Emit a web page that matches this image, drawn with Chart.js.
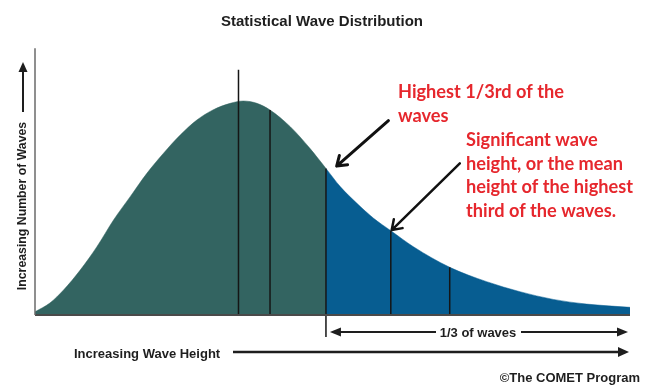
<!DOCTYPE html>
<html>
<head>
<meta charset="utf-8">
<script src="https://cdn.jsdelivr.net/npm/chart.js@4.4.1/dist/chart.umd.min.js"></script>
<style>
  html, body { margin: 0; padding: 0; background: #fff; }
  canvas { display: block; }
</style>
</head>
<body>
<canvas id="waveChart" width="648" height="388"></canvas>
<script>
// curve: x = wave height (0-100), y = number of waves (peak = 100)
const lowerX = [0, 2.5, 4.8, 7.6, 10.4, 13.2, 16.0, 18.8, 21.6, 24.4, 27.2, 29.9, 32.8, 35.0, 37.3, 39.5, 42.9, 46.2, 48.9]
const lowerY = [1.5, 5.6, 11.7, 21.0, 31.9, 44.4, 55.3, 66.2, 75.6, 84.1, 91.1, 95.8, 98.9, 100, 98.9, 95.8, 88.0, 77.9, 68.5]
const upperX = [48.9, 51.3, 54.1, 56.9, 59.8, 63.6, 69.7, 75.9, 81.5, 87.1, 92.7, 100]
const upperY = [68.5, 60.0, 52.2, 45.2, 39.4, 31.9, 22.3, 15.6, 10.9, 7.3, 5.1, 3.6]

// vertical marker lines
const markerX = [34.2, 39.5, 48.9, 59.8, 69.7]
const markerTop = [114.6, 95.8, 68.5, 39.4, 22.3]
const markerBottom = [0, 0, -10.3, 0, 0]

const axisTop = 124.6
const axisEnd = 100

const title = 'Statistical Wave Distribution'
const yLabel = 'Increasing Number of Waves'
const xLabel = 'Increasing Wave Height'
const thirdLabel = '1/3 of waves'
const credit = '\u00A9The COMET Program'
const noteThird = ['Highest 1/3rd of the', 'waves']
const noteSig = ['Significant wave', 'height, or the mean', 'height of the highest', 'third of the waves.']

const toPoints = (xs, ys) => xs.map((v, i) => ({ x: v, y: ys[i] }))

const datasets = [
  {
    data: toPoints(lowerX, lowerY),
    backgroundColor: '#336461',
    borderColor: '#336461',
    borderWidth: 0.5,
    fill: 'origin',
    cubicInterpolationMode: 'monotone',
    order: 10
  },
  {
    data: toPoints(upperX, upperY),
    backgroundColor: '#075d91',
    borderColor: '#075d91',
    borderWidth: 0.5,
    fill: 'origin',
    cubicInterpolationMode: 'monotone',
    order: 10
  }
]

markerX.forEach((mx, i) => {
  datasets.push({
    data: [{ x: mx, y: markerBottom[i] }, { x: mx, y: markerTop[i] }],
    borderColor: '#151515',
    borderWidth: 1.5,
    fill: false,
    clip: false,
    order: 1
  })
})

// axis lines
datasets.push({
  data: [{ x: 0, y: 0 }, { x: 0, y: axisTop }],
  borderColor: '#6a6a6a',
  borderWidth: 1.5,
  fill: false,
  clip: false,
  order: 0
})
datasets.push({
  data: [{ x: 0, y: 0 }, { x: axisEnd, y: 0 }],
  borderColor: '#4a4a4a',
  borderWidth: 2,
  fill: false,
  clip: false,
  order: 0
})

const filledArrow = (ctx, x1, y1, x2, y2, lw, len, half) => {
  const a = Math.atan2(y2 - y1, x2 - x1)
  ctx.lineWidth = lw
  ctx.beginPath()
  ctx.moveTo(x1, y1)
  ctx.lineTo(x2 - Math.cos(a) * len * 0.8, y2 - Math.sin(a) * len * 0.8)
  ctx.stroke()
  ctx.beginPath()
  ctx.moveTo(x2, y2)
  ctx.lineTo(x2 - Math.cos(a) * len - Math.sin(a) * half, y2 - Math.sin(a) * len + Math.cos(a) * half)
  ctx.lineTo(x2 - Math.cos(a) * len + Math.sin(a) * half, y2 - Math.sin(a) * len - Math.cos(a) * half)
  ctx.closePath()
  ctx.fill()
}

const openArrow = (ctx, x1, y1, x2, y2, lw, len) => {
  const a = Math.atan2(y2 - y1, x2 - x1)
  ctx.lineWidth = lw
  ctx.lineCap = 'round'
  ctx.lineJoin = 'round'
  ctx.beginPath()
  ctx.moveTo(x1, y1)
  ctx.lineTo(x2, y2)
  ctx.moveTo(x2 - Math.cos(a - 0.6) * len, y2 - Math.sin(a - 0.6) * len)
  ctx.lineTo(x2, y2)
  ctx.lineTo(x2 - Math.cos(a + 0.6) * len, y2 - Math.sin(a + 0.6) * len)
  ctx.stroke()
  ctx.lineCap = 'butt'
}

const annotations = {
  id: 'annotations',
  afterDraw(chart) {
    const { ctx, scales: { x, y } } = chart
    ctx.save()
    ctx.fillStyle = '#1e1e1e'
    ctx.strokeStyle = '#1e1e1e'

    // title
    ctx.font = 'bold 15px "Liberation Sans", Arial, sans-serif'
    ctx.textAlign = 'center'
    ctx.textBaseline = 'middle'
    ctx.fillText(title, 322, 22)

    // y label + arrow
    ctx.font = 'bold 12.3px "Liberation Sans", Arial, sans-serif'
    ctx.save()
    ctx.translate(23, 206)
    ctx.rotate(-Math.PI / 2)
    ctx.fillText(yLabel, 0, 0)
    ctx.restore()
    filledArrow(ctx, 23, 112, 23, 62, 2, 10, 4.5)

    ctx.font = 'bold 13px "Liberation Sans", Arial, sans-serif'

    // "1/3 of waves" span
    const xb = x.getPixelForValue(markerX[2])
    const xe = x.getPixelForValue(axisEnd)
    const ys = 332
    ctx.fillText(thirdLabel, 478, ys + 1)
    filledArrow(ctx, 436, ys, xb + 4, ys, 2, 11, 4.5)
    filledArrow(ctx, 521, ys, xe - 2, ys, 2, 11, 4.5)

    // x label + arrow
    ctx.textAlign = 'left'
    ctx.fillText(xLabel, 74, 354)
    filledArrow(ctx, 233, 352, xe - 1, 352, 2.5, 11, 5)

    // credit
    ctx.textAlign = 'right'
    ctx.fillText(credit, 640, 378)

    // red notes
    ctx.fillStyle = '#e6272d'
    ctx.textAlign = 'left'
    ctx.textBaseline = 'alphabetic'
    ctx.font = 'bold 18.2px Lato, "Noto Sans", sans-serif'
    noteThird.forEach((t, i) => ctx.fillText(t, 398, 98 + i * 24))
    noteSig.forEach((t, i) => ctx.fillText(t, 466, 146 + i * 23.5))

    // black pointer arrows
    ctx.strokeStyle = '#111'
    openArrow(ctx, x.getPixelForValue(59.4), y.getPixelForValue(90.8), x.getPixelForValue(50.7), y.getPixelForValue(69.6), 3, 11)
    openArrow(ctx, x.getPixelForValue(71.4), y.getPixelForValue(70.9), x.getPixelForValue(59.95), y.getPixelForValue(39.7), 2.5, 11)

    ctx.restore()
  }
}

new Chart(document.querySelector('#waveChart'), {
  type: 'line',
  data: { datasets: datasets },
  options: {
    responsive: false,
    animation: false,
    layout: { padding: { top: 47.5, bottom: 47.3, left: 35, right: 18 } },
    elements: { point: { radius: 0, hoverRadius: 0 } },
    scales: {
      x: { type: 'linear', min: 0, max: 100, display: false },
      y: { min: -12, max: 125, display: false }
    },
    plugins: {
      legend: { display: false },
      tooltip: { enabled: false }
    }
  },
  plugins: [annotations]
})
</script>
</body>
</html>
